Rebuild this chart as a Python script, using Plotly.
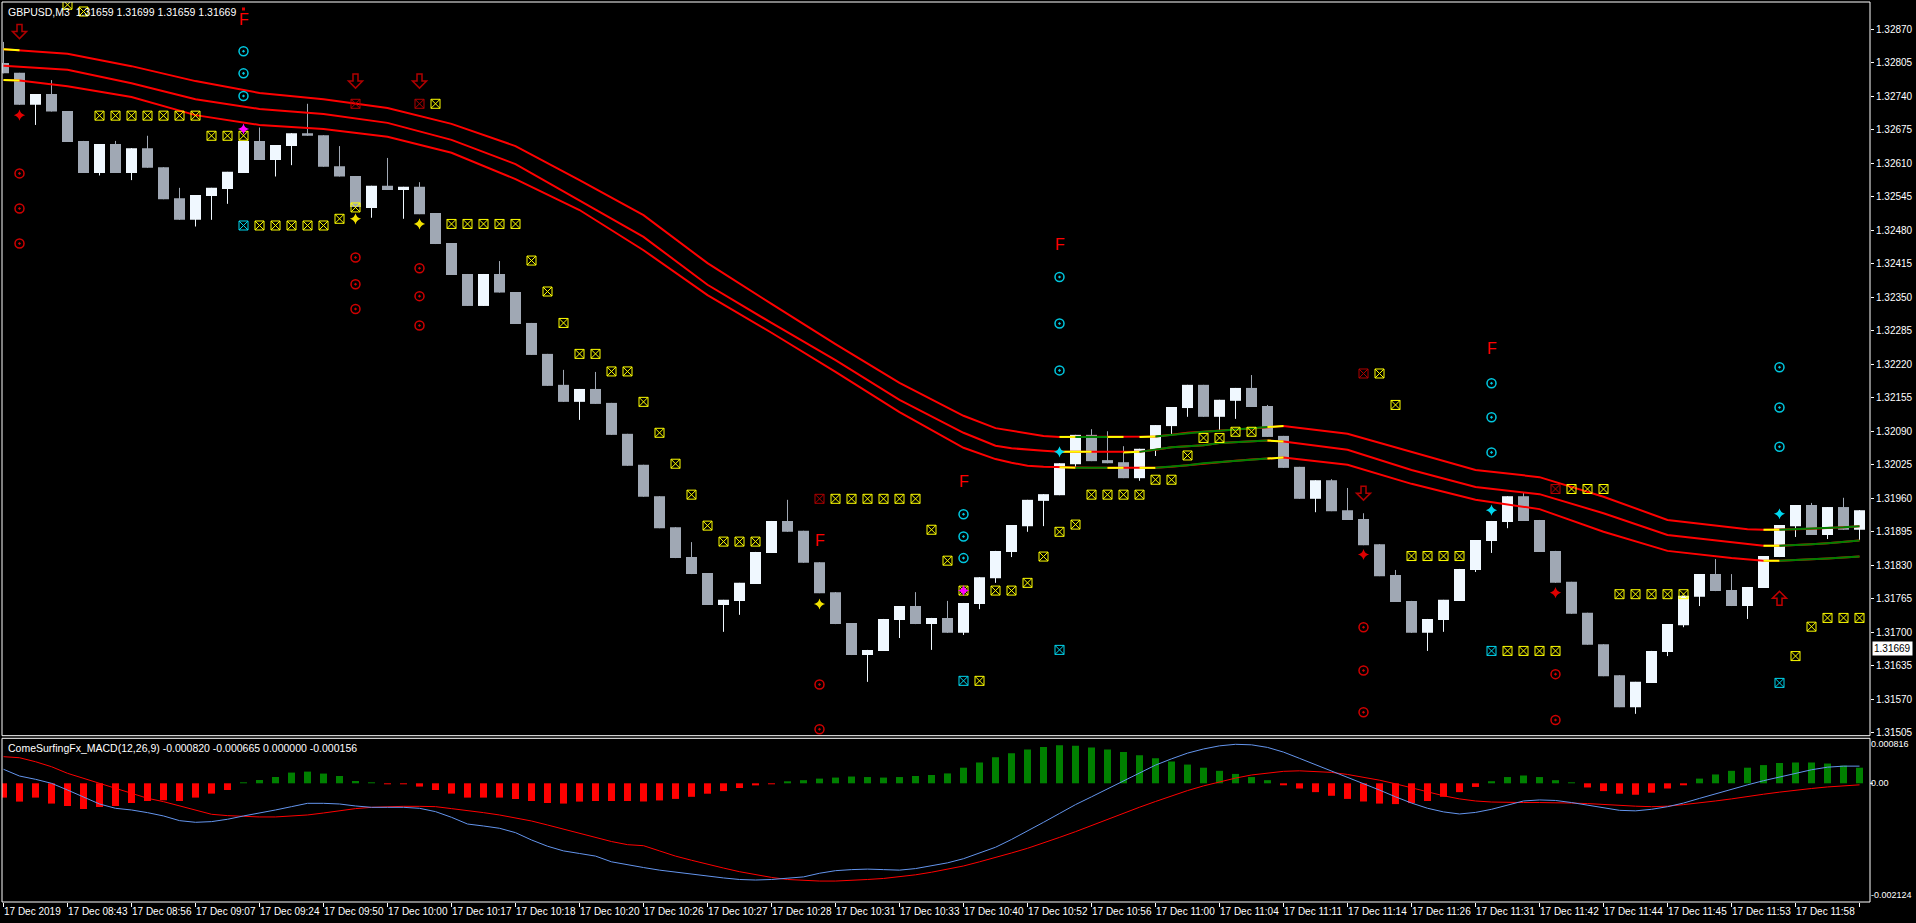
import plotly.graph_objects as go

# ---------------- data ----------------
bars = list(range(117))
opens = [1.32804,1.32785,1.32723,1.32744,1.32711,1.32653,1.32591,1.32647,1.32591,1.32639,
         1.32602,1.32542,1.32500,1.32546,1.32560,1.32591,1.32653,1.32616,1.32643,1.32668,
         1.32664,1.32604,1.32585,1.32523,1.32566,1.32558,1.32564,1.32513,1.32455,1.32395,
         1.32333,1.32395,1.32360,1.32300,1.32240,1.32180,1.32147,1.32172,1.32145,1.32085,
         1.32025,1.31964,1.31904,1.31846,1.31815,1.31753,1.31761,1.31794,1.31854,1.31916,
         1.31897,1.31836,1.31778,1.31718,1.31656,1.31664,1.31724,1.31751,1.31716,1.31728,
         1.31699,1.31755,1.31805,1.31856,1.31906,1.31955,1.31966,1.32026,1.32083,1.32034,
         1.32030,1.31999,1.32054,1.32100,1.32135,1.32180,1.32118,1.32149,1.32174,1.32139,
         1.32081,1.32021,1.31959,1.31995,1.31937,1.31920,1.31871,1.31811,1.31761,1.31699,
         1.31724,1.31761,1.31821,1.31877,1.31914,1.31964,1.31918,1.31858,1.31798,1.31738,
         1.31677,1.31617,1.31555,1.31602,1.31662,1.31714,1.31769,1.31813,1.31782,1.31751,
         1.31786,1.31846,1.31906,1.31947,1.31889,1.31943,1.31899]
highs = [1.32845,1.32785,1.32744,1.32771,1.32711,1.32653,1.32647,1.32653,1.32639,1.32663,
         1.32602,1.32562,1.32548,1.32562,1.32593,1.32653,1.32679,1.32645,1.32668,1.32725,
         1.32664,1.32643,1.32585,1.32566,1.32620,1.32564,1.32573,1.32513,1.32455,1.32395,
         1.32395,1.32420,1.32360,1.32300,1.32240,1.32209,1.32172,1.32205,1.32145,1.32085,
         1.32025,1.31964,1.31904,1.31875,1.31815,1.31763,1.31796,1.31856,1.31916,1.31957,
         1.31897,1.31836,1.31778,1.31718,1.31666,1.31726,1.31751,1.31778,1.31728,1.31761,
         1.31757,1.31807,1.31858,1.31908,1.31957,1.31968,1.32028,1.32083,1.32094,1.32090,
         1.32061,1.32056,1.32102,1.32137,1.32180,1.32180,1.32151,1.32174,1.32199,1.32141,
         1.32081,1.32021,1.31995,1.31997,1.31980,1.31931,1.31871,1.31821,1.31761,1.31726,
         1.31763,1.31823,1.31879,1.31916,1.31964,1.31972,1.31918,1.31858,1.31798,1.31738,
         1.31677,1.31617,1.31604,1.31664,1.31716,1.31771,1.31813,1.31842,1.31813,1.31788,
         1.31848,1.31908,1.31947,1.31951,1.31943,1.31961,1.31937]
lows = [1.32784,1.32723,1.32684,1.32710,1.32651,1.32591,1.32586,1.32591,1.32577,1.32601,
        1.32540,1.32500,1.32487,1.32500,1.32531,1.32591,1.32616,1.32584,1.32606,1.32663,
        1.32603,1.32584,1.32525,1.32504,1.32558,1.32502,1.32511,1.32453,1.32393,1.32333,
        1.32333,1.32359,1.32298,1.32238,1.32178,1.32147,1.32112,1.32143,1.32083,1.32023,
        1.31963,1.31902,1.31844,1.31813,1.31753,1.31701,1.31734,1.31794,1.31854,1.31895,
        1.31835,1.31776,1.31716,1.31656,1.31604,1.31664,1.31689,1.31716,1.31666,1.31699,
        1.31695,1.31745,1.31796,1.31846,1.31895,1.31906,1.31966,1.32019,1.32032,1.32028,
        1.31999,1.31994,1.32042,1.32083,1.32118,1.32118,1.32090,1.32114,1.32137,1.32079,
        1.32019,1.31959,1.31933,1.31935,1.31918,1.31869,1.31809,1.31759,1.31699,1.31664,
        1.31701,1.31761,1.31817,1.31854,1.31902,1.31916,1.31856,1.31796,1.31736,1.31676,
        1.31615,1.31555,1.31542,1.31602,1.31654,1.31710,1.31751,1.31780,1.31751,1.31726,
        1.31786,1.31846,1.31885,1.31889,1.31881,1.31899,1.31879]
closes = [1.32784,1.32723,1.32744,1.32710,1.32651,1.32591,1.32647,1.32591,1.32639,1.32601,
          1.32540,1.32500,1.32548,1.32562,1.32593,1.32653,1.32616,1.32645,1.32668,1.32663,
          1.32603,1.32584,1.32525,1.32566,1.32558,1.32564,1.32511,1.32453,1.32393,1.32333,
          1.32395,1.32359,1.32298,1.32238,1.32178,1.32147,1.32172,1.32143,1.32083,1.32023,
          1.31963,1.31902,1.31844,1.31813,1.31753,1.31763,1.31796,1.31856,1.31916,1.31895,
          1.31835,1.31776,1.31716,1.31656,1.31666,1.31726,1.31751,1.31716,1.31728,1.31699,
          1.31757,1.31807,1.31858,1.31908,1.31957,1.31968,1.32028,1.32083,1.32032,1.32028,
          1.31999,1.32056,1.32102,1.32137,1.32180,1.32118,1.32151,1.32174,1.32137,1.32079,
          1.32019,1.31959,1.31995,1.31935,1.31918,1.31869,1.31809,1.31759,1.31699,1.31726,
          1.31763,1.31823,1.31879,1.31916,1.31964,1.31916,1.31856,1.31796,1.31736,1.31676,
          1.31615,1.31555,1.31604,1.31664,1.31716,1.31771,1.31813,1.31780,1.31751,1.31788,
          1.31848,1.31908,1.31947,1.31889,1.31943,1.31899,1.31937]

# envelope bands (sampled at bar indices)
band_x = [0,1,4,8,12,16,20,24,28,32,36,40,44,48,52,56,60,62,63,64,65,66,67,68,69,70,71,72,73,74,75,76,77,78,79,80,
          84,88,92,96,100,104,108,109,110,111,112,113,114,115,116]
band_upper = [1.32831,1.32829,1.32822,1.32798,1.32769,1.32746,1.32734,1.32717,1.32686,1.32643,1.32577,1.32509,
              1.32416,1.32337,1.32259,1.32184,1.32120,1.32096,1.32091,1.32086,1.32081,1.32079,1.32079,1.32079,
              1.32079,1.32079,1.32079,1.32080,1.32083,1.32087,1.32089,1.32091,1.32093,1.32095,1.32098,1.32100,
              1.32085,1.32050,1.32015,1.32001,1.31963,1.31918,1.31904,1.31900,1.31899,1.31899,1.31900,1.31901,
              1.31902,1.31904,1.31906]
band_mid = [1.32799,1.32797,1.32791,1.32765,1.32734,1.32715,1.32705,1.32688,1.32655,1.32608,1.32538,1.32467,
            1.32374,1.32300,1.32228,1.32151,1.32087,1.32062,1.32057,1.32054,1.32052,1.32050,1.32050,1.32050,
            1.32049,1.32049,1.32050,1.32054,1.32059,1.32061,1.32063,1.32067,1.32069,1.32070,1.32072,1.32070,
            1.32054,1.32015,1.31982,1.31968,1.31931,1.31889,1.31875,1.31872,1.31868,1.31868,1.31869,1.31871,
            1.31873,1.31875,1.31878]
band_lower = [1.32771,1.32770,1.32759,1.32738,1.32703,1.32684,1.32676,1.32661,1.32630,1.32579,1.32519,1.32441,
              1.32354,1.32281,1.32205,1.32127,1.32058,1.32036,1.32029,1.32023,1.32021,1.32020,1.32019,1.32019,
              1.32019,1.32019,1.32019,1.32019,1.32021,1.32024,1.32028,1.32030,1.32033,1.32035,1.32037,1.32039,
              1.32025,1.31988,1.31957,1.31939,1.31895,1.31858,1.31844,1.31841,1.31839,1.31839,1.31840,1.31842,
              1.31843,1.31845,1.31847]

# MACD pane (values in units of 1e-4)
macd_hist = [-2.75,-3.52,-2.75,-3.90,-4.37,-4.94,-4.56,-4.37,-3.79,-3.40,
             -3.27,-3.40,-2.75,-1.98,-1.29,0.13,0.63,1.21,2.06,2.25,
             1.87,1.40,0.44,0.13,-0.13,-0.13,-0.63,-1.29,-1.98,-2.75,
             -2.75,-2.75,-3.02,-3.40,-3.79,-3.90,-3.52,-3.40,-3.40,-3.40,
             -3.5,-3.3,-3.0,-2.6,-2.0,-1.5,-0.9,-0.4,-0.1,0.3,
             0.6,0.9,1.1,1.3,1.2,1.1,1.2,1.4,1.6,1.9,
             3.0,4.0,5.0,5.8,6.5,7.0,7.3,7.2,6.9,6.5,
             6.0,5.4,4.8,4.2,3.6,3.0,2.4,1.8,1.2,0.6,
             -0.3,-1.0,-1.7,-2.4,-3.0,-3.5,-3.9,-4.0,-3.8,-3.4,
             -2.6,-1.7,-0.7,0.4,1.2,1.5,1.2,0.6,0.1,-0.8,
             -1.5,-2.0,-2.2,-1.8,-1.0,-0.2,0.9,1.7,2.4,3.0,
             3.5,3.9,4.0,4.0,3.8,3.4,3.0]
macd_line = [2.69,1.40,0.77,0.0,-1.29,-2.69,-3.98,-4.81,-5.13,-5.64,
             -6.28,-7.18,-7.50,-7.37,-6.92,-6.28,-5.77,-5.13,-4.49,-3.85,
             -3.85,-3.98,-4.36,-4.62,-4.62,-4.62,-4.81,-5.45,-6.54,-7.83,
             -8.21,-8.65,-9.49,-10.9,-12.1,-13.0,-13.5,-14.0,-15.1,-15.7,
             -16.2,-16.7,-17.1,-17.5,-17.9,-18.2,-18.5,-18.6,-18.5,-18.3,
             -18.0,-17.3,-16.8,-16.6,-16.5,-16.6,-16.7,-16.4,-15.9,-15.3,
             -14.5,-13.4,-12.3,-10.8,-9.2,-7.5,-5.8,-4.1,-2.6,-1.1,
             0.5,2.0,3.5,4.7,5.8,6.6,7.2,7.5,7.4,6.9,
             6.0,4.8,3.6,2.3,1.1,-0.1,-1.3,-2.6,-3.8,-4.8,
             -5.5,-5.9,-5.6,-5.0,-4.2,-3.4,-3.2,-3.3,-3.7,-4.2,
             -4.7,-5.2,-5.3,-5.0,-4.5,-3.8,-2.9,-2.0,-1.1,-0.3,
             0.5,1.2,2.0,2.6,3.1,3.3,3.3]
macd_signal = [5.12,4.92,4.15,3.19,1.92,0.96,0.0,-0.96,-1.92,-2.88,
               -3.53,-4.36,-5.13,-5.96,-6.22,-6.41,-6.47,-6.47,-6.35,-6.09,
               -5.71,-5.26,-4.87,-4.62,-4.49,-4.43,-4.43,-4.49,-4.87,-5.19,
               -5.64,-6.09,-6.60,-7.25,-8.02,-8.85,-9.62,-10.4,-11.2,-11.8,
               -12.0,-13.0,-14.0,-14.8,-15.6,-16.3,-17.0,-17.6,-18.1,-18.5,
               -18.7,-18.8,-18.8,-18.7,-18.5,-18.3,-18.0,-17.6,-17.1,-16.5,
               -15.9,-15.1,-14.3,-13.4,-12.5,-11.5,-10.4,-9.3,-8.1,-7.0,
               -5.8,-4.6,-3.5,-2.4,-1.4,-0.5,0.3,1.0,1.6,2.0,
               2.3,2.4,2.3,2.1,1.7,1.2,0.6,-0.1,-0.9,-1.7,
               -2.4,-3.0,-3.4,-3.6,-3.7,-3.7,-3.7,-3.7,-3.8,-3.9,
               -4.1,-4.3,-4.4,-4.5,-4.4,-4.1,-3.8,-3.4,-3.0,-2.5,
               -2.1,-1.7,-1.3,-1.0,-0.7,-0.5,-0.3]

# signal markers (bar index, price)
yellow_box_x = [4,5,6,7,8,9,10,11,12,13,14,15,16,17,18,19,20,21,22,27,28,29,30,31,32,33,34,35,36,37,38,39,40,41,42,43,44,
                45,46,47,52,53,54,55,56,57,58,59,60,61,62,63,64,65,66,67,68,69,70,71,72,73,74,75,76,77,78,86,87,
                88,89,90,91,94,95,96,97,98,99,100,101,102,103,104,105,112,113,114,115,116]
yellow_box_y = [1.32917,1.32904,1.32702,1.32702,1.32702,1.32702,1.32702,1.32702,1.32702,1.32663,1.32663,1.32663,
                1.32489,1.32489,1.32489,1.32489,1.32489,1.32502,1.32524,1.32725,1.32492,1.32492,1.32492,1.32492,
                1.32492,1.32421,1.32361,1.32300,1.32240,1.32240,1.32206,1.32206,1.32147,1.32087,1.32027,1.31967,
                1.31907,1.31876,1.31876,1.31876,1.31959,1.31959,1.31959,1.31959,1.31959,1.31959,1.31899,1.31839,
                1.31781,1.31606,1.31781,1.31781,1.31796,1.31847,1.31895,1.31909,1.31967,1.31967,1.31967,1.31967,
                1.31996,1.31996,1.32043,1.32077,1.32077,1.32089,1.32089,1.32202,1.32141,1.31848,1.31848,1.31848,
                1.31848,1.31664,1.31664,1.31664,1.31664,1.31978,1.31978,1.31978,1.31774,1.31774,1.31774,1.31774,
                1.31774,1.31654,1.31711,1.31728,1.31728,1.31728]
red_box_x = [22,26,51,85,97]
red_box_y = [1.32725,1.32725,1.31959,1.32202,1.31978]
cyan_box_x = [15,60,66,93,111]
cyan_box_y = [1.32489,1.31606,1.31666,1.31664,1.31602]
cyan_circle_x = [15,15,15,60,60,60,66,66,66,93,93,93,111,111,111]
cyan_circle_y = [1.32827,1.32784,1.32740,1.31929,1.31886,1.31844,1.32389,1.32299,1.32208,
                 1.32183,1.32117,1.32049,1.32214,1.32136,1.32060]
red_circle_x = [1,1,1,22,22,22,26,26,26,51,51,85,85,85,97,97]
red_circle_y = [1.32590,1.32522,1.32454,1.32427,1.32375,1.32327,1.32406,1.32352,1.32295,
                1.31599,1.31512,1.31710,1.31626,1.31545,1.31619,1.31530]
f_x = [15,51,60,66,93]
f_y = [1.32889,1.31879,1.31992,1.32453,1.32251]
down_arrow_x = [1,22,26,85]
down_arrow_y = [1.32865,1.32769,1.32769,1.31970]
up_arrow_x = [111]
up_arrow_y = [1.31766]
red_star_x = [1,85,97]
red_star_y = [1.32703,1.31851,1.31777]
red_dot_x = [15]
red_dot_y = [1.32909]
yellow_star_x = [22,26,51]
yellow_star_y = [1.32502,1.32492,1.31755]
magenta_star_x = [15,60]
magenta_star_y = [1.32676,1.31781]
cyan_star_x = [66,93,111]
cyan_star_y = [1.32050,1.31937,1.31930]

price_ticks = [1.32870,1.32805,1.32740,1.32675,1.32610,1.32545,1.32480,1.32415,1.32350,1.32285,1.32220,
               1.32155,1.32090,1.32025,1.31960,1.31895,1.31830,1.31765,1.31700,1.31635,1.31570,1.31505]
time_tick_bars = list(range(0, 117, 4))
time_labels = ["17 Dec 2019","17 Dec 08:43","17 Dec 08:56","17 Dec 09:07","17 Dec 09:24","17 Dec 09:50",
               "17 Dec 10:00","17 Dec 10:17","17 Dec 10:18","17 Dec 10:20","17 Dec 10:26","17 Dec 10:27",
               "17 Dec 10:28","17 Dec 10:31","17 Dec 10:33","17 Dec 10:40","17 Dec 10:52","17 Dec 10:56",
               "17 Dec 11:00","17 Dec 11:04","17 Dec 11:11","17 Dec 11:14","17 Dec 11:26","17 Dec 11:31",
               "17 Dec 11:42","17 Dec 11:44","17 Dec 11:45","17 Dec 11:53","17 Dec 11:58","17 Dec 12:02"]
macd_tick_vals = [7.56, 0.0, -21.48]
macd_tick_text = ["0.000816", "0.00", "-0.002124"]
last_price = 1.31669
title_text = "GBPUSD,M3  1.31659 1.31699 1.31659 1.31669"
macd_text = "ComeSurfingFx_MACD(12,26,9) -0.000820 -0.000665 0.000000 -0.000156"

# ---------------- styles ----------------
BULL = "#F0F8FF"
BEAR = "#A0A8B4"
FONT = "Liberation Sans, Arial, sans-serif"
seg_upper = [(0, 1, "#FFFF00"), (66, 67, "#FFFF00"), (67, 69, "#008000"), (69, 70, "#FFFF00"),
             (71, 72, "#FFFF00"), (72, 79, "#008000"), (79, 80, "#FFFF00"), (110, 111, "#FFFF00"),
             (111, 116, "#008000")]
seg_mid = [(66, 68, "#FFFF00"), (70, 71, "#FFFF00"), (71, 79, "#008000"), (79, 80, "#FFFF00"),
           (110, 111, "#FFFF00"), (111, 116, "#008000")]
DOWN_ARROW = "M -2.5 7 L 2.5 7 L 2.5 0 L 7 0 L 0 -7 L -7 0 L -2.5 0 Z"
UP_ARROW = "M -2.5 -7 L 2.5 -7 L 2.5 0 L 7 0 L 0 7 L -7 0 L -2.5 0 Z"

fig = go.Figure()

# candle wicks
for bull, col in ((True, BULL), (False, BEAR)):
    wx, wy = [], []
    for k in bars:
        if (closes[k] >= opens[k]) == bull:
            wx += [k, k, None]
            wy += [lows[k], highs[k], None]
    fig.add_trace(go.Scatter(x=wx, y=wy, mode="lines", line=dict(color=col, width=1),
                             hoverinfo="skip", showlegend=False, xaxis="x", yaxis="y"))

# candle bodies
fig.add_trace(go.Bar(
    x=bars,
    base=[min(o, c) for o, c in zip(opens, closes)],
    y=[max(abs(c - o), 0.00002) for o, c in zip(opens, closes)],
    width=11 / 16,
    marker=dict(color=[BULL if c >= o else BEAR for o, c in zip(opens, closes)], line=dict(width=0)),
    hoverinfo="skip", showlegend=False, xaxis="x", yaxis="y"))

# bands
def add_band(vals, segs):
    fig.add_trace(go.Scatter(x=band_x, y=vals, mode="lines", line=dict(color="#FF0000", width=2),
                             hoverinfo="skip", showlegend=False, xaxis="x", yaxis="y"))
    for a, b, col in segs:
        xs = [x for x in band_x if a <= x <= b]
        ys = [v for x, v in zip(band_x, vals) if a <= x <= b]
        fig.add_trace(go.Scatter(x=xs, y=ys, mode="lines", line=dict(color=col, width=2),
                                 hoverinfo="skip", showlegend=False, xaxis="x", yaxis="y"))

add_band(band_upper, seg_upper)
add_band(band_mid, seg_mid)
add_band(band_lower, seg_upper)

# markers
def add_markers(xs, ys, symbol, color, size, lw=1.0):
    fig.add_trace(go.Scatter(x=xs, y=ys, mode="markers",
                             marker=dict(symbol=symbol, color=color, size=size,
                                         line=dict(color=color, width=lw)),
                             hoverinfo="skip", showlegend=False, xaxis="x", yaxis="y"))

add_markers(yellow_box_x, yellow_box_y, "square-x-open", "#FFFF00", 9)
add_markers(red_box_x, red_box_y, "square-x-open", "#B00000", 9)
add_markers(cyan_box_x, cyan_box_y, "square-x-open", "#00D8F0", 9)
add_markers(cyan_circle_x, cyan_circle_y, "circle-open-dot", "#00C8E0", 9, 1.5)
add_markers(red_circle_x, red_circle_y, "circle-open-dot", "#D00000", 9, 1.5)
add_markers(red_star_x, red_star_y, "star-diamond", "#E00000", 8, 0)
add_markers(red_dot_x, red_dot_y, "square", "#E00000", 3, 0)
add_markers(yellow_star_x, yellow_star_y, "star-diamond", "#F0E000", 8, 0)
add_markers(magenta_star_x, magenta_star_y, "star-diamond", "#FF00FF", 8, 0)
add_markers(cyan_star_x, cyan_star_y, "star-diamond", "#00D8F0", 8, 0)

# MACD pane
fig.add_trace(go.Bar(x=bars, y=macd_hist, width=7 / 16,
                     marker=dict(color=["#008000" if v >= 0 else "#FF0000" for v in macd_hist], line=dict(width=0)),
                     hoverinfo="skip", showlegend=False, xaxis="x", yaxis="y2"))
fig.add_trace(go.Scatter(x=bars, y=macd_signal, mode="lines", line=dict(color="#FF0000", width=1),
                         hoverinfo="skip", showlegend=False, xaxis="x", yaxis="y2"))
fig.add_trace(go.Scatter(x=bars, y=macd_line, mode="lines", line=dict(color="#6495ED", width=1),
                         hoverinfo="skip", showlegend=False, xaxis="x", yaxis="y2"))

annotations = []
for x, y in zip(f_x, f_y):
    annotations.append(dict(x=x, y=y, xref="x", yref="y", text="F", showarrow=False,
                            font=dict(family=FONT, size=16, color="#FF0000")))
annotations.append(dict(x=0, y=1, xref="paper", yref="paper", xanchor="left", yanchor="top",
                        xshift=4, yshift=-2, text=title_text, showarrow=False,
                        font=dict(family=FONT, size=10.5, color="#FFFFFF")))
annotations.append(dict(x=0, y=0.18189, xref="paper", yref="paper", xanchor="left", yanchor="top",
                        xshift=4, yshift=-2, text=macd_text, showarrow=False,
                        font=dict(family=FONT, size=10.5, color="#FFFFFF")))
annotations.append(dict(x=1, y=last_price, xref="paper", yref="y", xanchor="left", yanchor="middle",
                        xshift=2, text=f"{last_price:.5f}", showarrow=False, bgcolor="#FFFFFF",
                        borderpad=1, font=dict(family=FONT, size=10, color="#000000")))

MAIN_BOTTOM = 0.18478
MACD_TOP = 0.18189
shapes = [
    dict(type="rect", xref="paper", yref="paper", x0=0, x1=1, y0=MAIN_BOTTOM, y1=1,
         line=dict(color="#FFFFFF", width=1)),
    dict(type="rect", xref="paper", yref="paper", x0=0, x1=1, y0=0, y1=MACD_TOP,
         line=dict(color="#FFFFFF", width=1)),
    dict(type="line", xref="paper", yref="y2", xsizemode="pixel", xanchor=1, x0=0, x1=3, y0=0, y1=0,
         line=dict(color="#FFFFFF", width=1)),
]
for x, y in zip(down_arrow_x, down_arrow_y):
    shapes.append(dict(type="path", xref="x", yref="y", xsizemode="pixel", ysizemode="pixel",
                       xanchor=x, yanchor=y, path=DOWN_ARROW, line=dict(color="#B00000", width=1.5),
                       fillcolor="rgba(0,0,0,0)"))
for x, y in zip(up_arrow_x, up_arrow_y):
    shapes.append(dict(type="path", xref="x", yref="y", xsizemode="pixel", ysizemode="pixel",
                       xanchor=x, yanchor=y, path=UP_ARROW, line=dict(color="#C00000", width=1.5),
                       fillcolor="rgba(0,0,0,0)"))

fig.update_layout(
    width=1916, height=923,
    margin=dict(l=2, r=46, t=2, b=21, autoexpand=False),
    paper_bgcolor="#000000", plot_bgcolor="#000000",
    barmode="overlay", showlegend=False,
    xaxis=dict(range=[-0.09375, 116.65625], anchor="y2", showgrid=False, zeroline=False, showline=False,
               tickmode="array", tickvals=time_tick_bars, ticktext=time_labels, tickangle=0, automargin=False,
               ticks="outside", ticklen=4, tickcolor="#FFFFFF", ticklabelposition="outside right",
               tickfont=dict(family=FONT, size=10, color="#FFFFFF"), fixedrange=True),
    yaxis=dict(domain=[MAIN_BOTTOM, 1], range=[1.314996, 1.329224], side="right", anchor="x",
               showgrid=False, zeroline=False, showline=False, tickmode="array", tickvals=price_ticks,
               ticktext=[f"{v:.5f}" for v in price_ticks], ticks="outside", ticklen=3, tickcolor="#FFFFFF",
               automargin=False, tickfont=dict(family=FONT, size=10, color="#FFFFFF")),
    yaxis2=dict(domain=[0, MACD_TOP], range=[-22.827, 8.654], side="right", anchor="x",
                showgrid=False, zeroline=False, showline=False, tickmode="array", tickvals=macd_tick_vals,
                ticktext=macd_tick_text, ticks="", automargin=False,
                tickfont=dict(family=FONT, size=9, color="#FFFFFF")),
    annotations=annotations,
    shapes=shapes,
)

fig.write_html("out.html", config={"displayModeBar": False},
               post_script="document.body.style.margin='0';document.body.style.overflow='hidden';")
